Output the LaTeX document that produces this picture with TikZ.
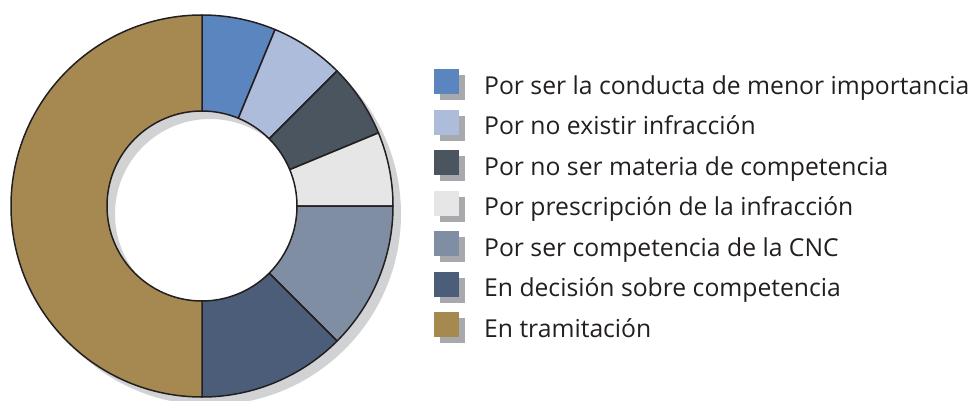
\documentclass[tikz,border=0pt]{standalone}
\usepackage{fontspec}
\setmainfont{Open Sans}
\definecolor{cA}{HTML}{5A85BF}
\definecolor{cB}{HTML}{AEBCDB}
\definecolor{cC}{HTML}{4A5560}
\definecolor{cD}{HTML}{E6E6E6}
\definecolor{cE}{HTML}{808EA3}
\definecolor{cF}{HTML}{4B5D79}
\definecolor{cG}{HTML}{A68951}
\definecolor{shd}{HTML}{D1D2D4}
\definecolor{lshd}{HTML}{A7A9AC}
\definecolor{ink}{HTML}{231F20}
\tikzset{
  seg/.style={draw=ink, line width=1.5pt, line join=round},
  legbox/.style={minimum size=25pt, inner sep=0pt, outer sep=0pt, anchor=north west},
  legshadow/.style={fill=lshd, minimum size=25pt, inner sep=0pt, anchor=north west},
  legtext/.style={anchor=base west, inner sep=0pt, text=ink, font=\fontsize{24.7}{28}\selectfont}
}
\newcommand{\donutseg}[3]{%
  \draw[seg, fill=#3] ([shift={(#1:191pt)}]ctr) arc[start angle=#1, end angle=#2, radius=191pt]
    -- ([shift={(#2:95pt)}]ctr) arc[start angle=#2, end angle=#1, radius=95pt] -- cycle;}
\begin{document}
\begin{tikzpicture}[x=1pt,y=1pt]
\useasboundingbox (0,0) rectangle (972,400);
\coordinate (ctr) at (202,194);
\coordinate (sctr) at (210,186);
% shadow
\fill[shd, even odd rule] (sctr) circle[radius=191pt] (sctr) circle[radius=95pt];
% segments
\donutseg{90}{67.5}{cA}
\donutseg{67.5}{45}{cB}
\donutseg{45}{22.5}{cC}
\donutseg{22.5}{0}{cD}
\donutseg{0}{-45}{cE}
\donutseg{-45}{-90}{cF}
\donutseg{-90}{-270}{cG}
% legend
\foreach \i/\c/\t in {0/cA/{Por ser la conducta de menor importancia},
                     1/cB/{Por no existir infracción},
                     2/cC/{Por no ser materia de competencia},
                     3/cD/{Por prescripción de la infracción},
                     4/cE/{Por ser competencia de la CNC},
                     5/cF/{En decisión sobre competencia},
                     6/cG/{En tramitación}}{
  \node[legshadow] (sh\i) at (440, 325-40.5*\i) {};
  \node[legbox, fill=\c] (box\i) at (434, 331-40.5*\i) {};
  \node[legtext] (lab\i) at (484, 306-40.5*\i) {\t};
}
\end{tikzpicture}
\end{document}
